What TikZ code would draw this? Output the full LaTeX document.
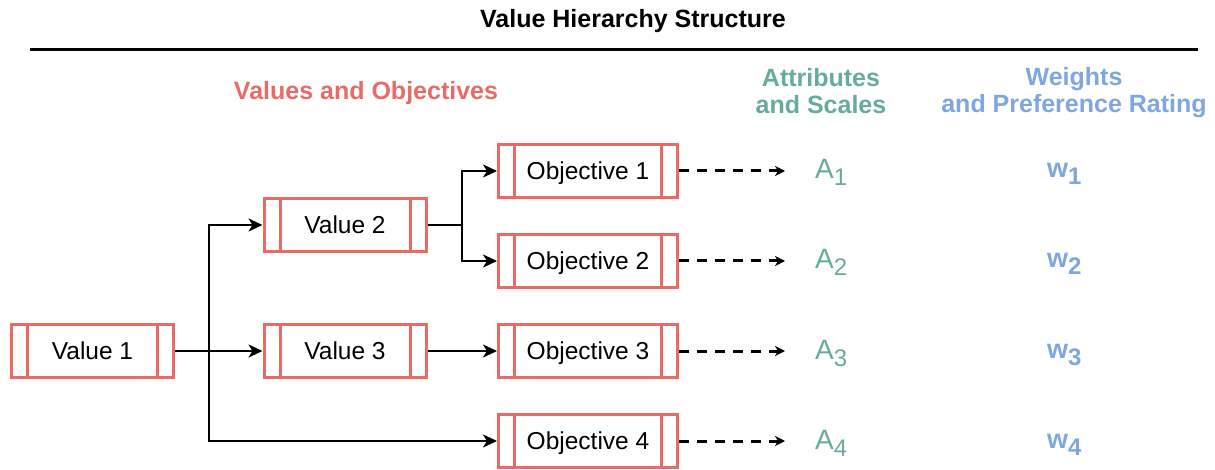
\documentclass[tikz,border=0pt]{standalone}
\usepackage{fontspec}
\setmainfont{Liberation Sans}
\usetikzlibrary{arrows.meta}
\definecolor{boxred}{HTML}{EA6B66}
\definecolor{attrgreen}{HTML}{67AB9F}
\definecolor{weightblue}{HTML}{7EA6E0}
% letter with a lowered index, e.g. A_1 or w_1
\newcommand{\idxlabel}[2]{#1\raisebox{-7pt}{\fontsize{24pt}{24pt}\selectfont #2}}
\begin{document}
\begin{tikzpicture}[x=1pt,y=-1pt,
  procbox/.style={draw=boxred, line width=3pt, fill=white,
    minimum width=#1, minimum height=53pt, inner sep=0pt,
    text height=17.5pt, text depth=0pt,
    font=\fontsize{24.5pt}{28pt}\selectfont,
    path picture={\draw[boxred,line width=3pt]
      ([xshift=16pt]path picture bounding box.north west) --
      ([xshift=16pt]path picture bounding box.south west)
      ([xshift=-16pt]path picture bounding box.north east) --
      ([xshift=-16pt]path picture bounding box.south east);}},
  valbox/.style={procbox=162pt},
  objbox/.style={procbox=179pt},
  link/.style={draw=black, line width=2.2pt,
    -{Stealth[length=14pt,width=13pt,inset=4pt]}},
  plainlink/.style={draw=black, line width=2.2pt},
  dashlink/.style={draw=black, line width=3pt, dash pattern=on 10pt off 8pt,
    -{Stealth[length=10pt,width=10pt,inset=3pt]}},
  header/.style={font=\fontsize{25pt}{27pt}\selectfont\bfseries, align=center, inner sep=0pt},
  attr/.style={text=attrgreen, font=\fontsize{28pt}{28pt}\selectfont, inner sep=0pt, anchor=base west},
  weight/.style={text=weightblue, font=\fontsize{27pt}{27pt}\selectfont\bfseries, inner sep=0pt, anchor=base west}
]
\useasboundingbox (0,0) rectangle (1215,470);

% headings
\node[header, anchor=base] (title) at (633,28) {Value Hierarchy Structure};
\draw[line width=3pt] (30,50) -- (1198,50);
\node[header, text=boxred, anchor=base] (hval) at (366,100) {Values and Objectives};
\node[header, text=attrgreen] (hattr) at (821,91) {Attributes\\and Scales};
\node[header, text=weightblue] (hweight) at (1074,93) {Weights\\and Preference Rating};

% values and objectives
\node[valbox] (v1) at (92.5,351) {Value 1};
\node[valbox] (v2) at (345,225) {Value 2};
\node[valbox] (v3) at (345,351) {Value 3};
\node[objbox] (o1) at (588,171) {Objective 1};
\node[objbox] (o2) at (588,261) {Objective 2};
\node[objbox] (o3) at (588,351) {Objective 3};
\node[objbox] (o4) at (588,441) {Objective 4};

% attributes
\node[attr] (a1) at (815,179) {\idxlabel{A}{1}};
\node[attr] (a2) at (815,269) {\idxlabel{A}{2}};
\node[attr] (a3) at (815,359) {\idxlabel{A}{3}};
\node[attr] (a4) at (815,449) {\idxlabel{A}{4}};

% weights
\node[weight] (w1) at (1047,178) {\idxlabel{w}{1}};
\node[weight] (w2) at (1047,268) {\idxlabel{w}{2}};
\node[weight] (w3) at (1047,358) {\idxlabel{w}{3}};
\node[weight] (w4) at (1047,448) {\idxlabel{w}{4}};

% branching points
\coordinate (j1) at (209,351);
\coordinate (j2) at (462,225);

% tree connectors
\draw[link] (v1.east) -- (v3.west);
\draw[link] (j1) |- (v2.west);
\draw[link] (j1) |- (o4.west);
\draw[plainlink] (v2.east) -- (j2);
\draw[link] (j2) |- (o1.west);
\draw[link] (j2) |- (o2.west);
\draw[link] (v3.east) -- (o3.west);

% objective to attribute
\foreach \i in {1,2,3,4}{
  \draw[dashlink, shorten >=30pt] (o\i.east) -- (a\i.west |- o\i.east);
}
\end{tikzpicture}
\end{document}
